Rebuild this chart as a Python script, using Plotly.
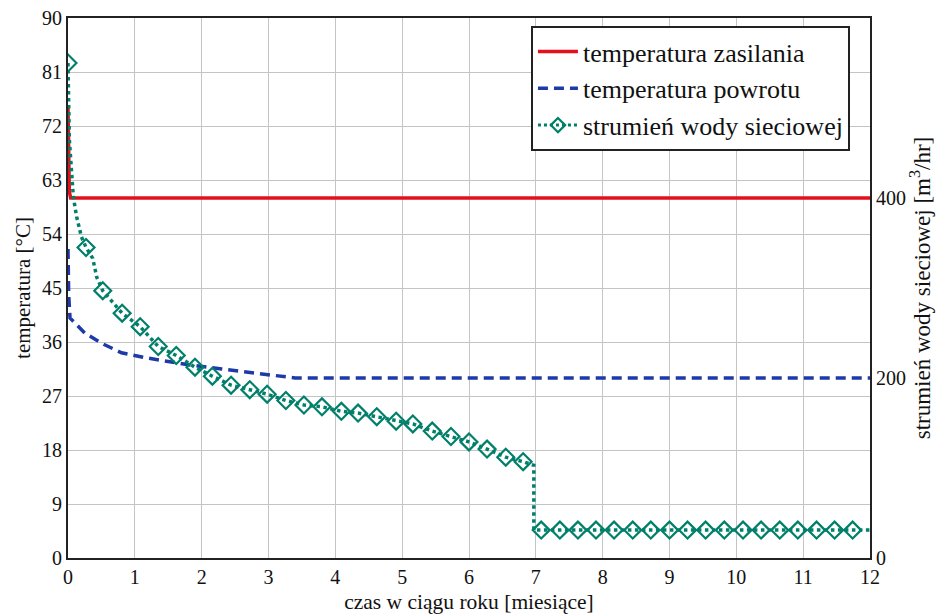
import plotly.graph_objects as go

# ---- data ----
supply_t = [0, 0.02, 0.04, 12]
supply_temp = [75, 61, 60, 60]

return_t = [0, 0.01, 0.03, 0.1, 0.25, 0.5, 0.8, 1.2, 1.8, 2.3, 2.8, 3.2, 3.4, 12]
return_temp = [51.5, 44, 40, 39.2, 37.5, 35.8, 34.2, 33.3, 32.2, 31.5, 30.8, 30.3, 30, 30]

flow_marker_t = [0, 0.27, 0.52, 0.81, 1.08, 1.35, 1.62, 1.9, 2.16, 2.44, 2.72, 2.98,
                 3.26, 3.53, 3.8, 4.09, 4.34, 4.62, 4.91, 5.16, 5.45, 5.73, 6.0, 6.27,
                 6.55, 6.81, 7.08, 7.36, 7.63, 7.9, 8.17, 8.45, 8.72, 9.0, 9.27, 9.54,
                 9.82, 10.1, 10.37, 10.65, 10.92, 11.2, 11.47, 11.74]
flow_marker_v = [550, 345, 297, 272, 257, 235, 225, 212, 202, 192, 187, 182,
                 175, 170, 168, 163, 161, 157, 152, 149, 141, 135, 129, 121,
                 112, 107, 31, 31, 31, 31, 31, 31, 31, 31, 31, 31,
                 31, 31, 31, 31, 31, 31, 31, 31]

flow_line_t = [0, 0.02, 0.08, 0.13, 0.2, 0.27, 0.37, 0.43, 0.52, 0.81, 1.08, 1.35, 1.62, 1.9,
               2.16, 2.44, 2.72, 2.98, 3.26, 3.53, 3.8, 4.09, 4.34, 4.62, 4.91, 5.16,
               5.45, 5.73, 6.0, 6.27, 6.55, 6.81, 6.97, 6.97, 7.08, 12]
flow_line_v = [550, 465, 401, 379, 357, 345, 333, 312, 297, 272, 257, 235, 225, 212,
               202, 192, 187, 182, 175, 170, 168, 163, 161, 157, 152, 149,
               141, 135, 129, 121, 112, 107, 103, 31, 31, 31]

x_ticks = list(range(0, 13))
y_ticks = list(range(0, 91, 9))
y2_ticks = [0, 200, 400]

RED = '#e3101c'
BLUE = '#1f3aa8'
GREEN = '#00806a'
FONT = 'Times New Roman'

fig = go.Figure()
fig.add_trace(go.Scatter(x=supply_t, y=supply_temp, mode='lines',
                         line=dict(color=RED, width=3.5),
                         name='temperatura zasilania'))
fig.add_trace(go.Scatter(x=return_t, y=return_temp, mode='lines',
                         line=dict(color=BLUE, width=3.5, dash='10px,6px'),
                         name='temperatura powrotu'))
fig.add_trace(go.Scatter(x=flow_line_t, y=flow_line_v, mode='lines', yaxis='y2',
                         line=dict(color=GREEN, width=3.5, dash='dot'),
                         showlegend=False, legendgroup='flow'))
fig.add_trace(go.Scatter(x=flow_marker_t, y=flow_marker_v, mode='markers', yaxis='y2',
                         marker=dict(symbol='diamond-open', size=13, color=GREEN,
                                     line=dict(width=2.2, color=GREEN)),
                         showlegend=False, legendgroup='flow'))
fig.add_trace(go.Scatter(x=[None], y=[None], mode='lines+markers', yaxis='y2',
                         line=dict(color=GREEN, width=3, dash='dot'),
                         marker=dict(symbol='diamond-open', size=11, color=GREEN,
                                     line=dict(width=2.2, color=GREEN)),
                         name='strumień wody sieciowej', legendgroup='flow'))

axis_common = dict(showline=True, linecolor='#222222', linewidth=2,
                   gridcolor='#c4c4c4', gridwidth=1, zeroline=False,
                   automargin=False,
                   tickfont=dict(family=FONT, size=20, color='#111111'))

fig.update_layout(
    width=940, height=614,
    margin=dict(l=68, r=70, t=18, b=56),
    paper_bgcolor='white', plot_bgcolor='white',
    font=dict(family=FONT, color='#111111'),
    xaxis=dict(range=[0, 12], tickvals=x_ticks, mirror=True, ticks='',
               title=dict(text='czas w ciągu roku [miesiące]',
                          font=dict(family=FONT, size=21.5)),
               **axis_common),
    yaxis=dict(range=[0, 90], tickvals=y_ticks, mirror=True, ticks='',
               title=dict(text='temperatura [°C]',
                          font=dict(family=FONT, size=21), standoff=6),
               **axis_common),
    yaxis2=dict(range=[0, 600], tickvals=y2_ticks, overlaying='y', side='right',
                showgrid=False, showline=True, linecolor='#222222', linewidth=2,
                zeroline=False, ticks='', automargin=False,
                tickfont=dict(family=FONT, size=20, color='#111111'),
                title=dict(text='strumień wody sieciowej [m<sup>3</sup>/hr]',
                           font=dict(family=FONT, size=23), standoff=2)),
    legend=dict(x=0.975, y=0.985, xanchor='right', yanchor='top',
                bgcolor='white', bordercolor='#222222', borderwidth=2,
                font=dict(family=FONT, size=26, color='#111111'),
                tracegroupgap=0, itemwidth=40),
)

fig.write_html('out.html')
